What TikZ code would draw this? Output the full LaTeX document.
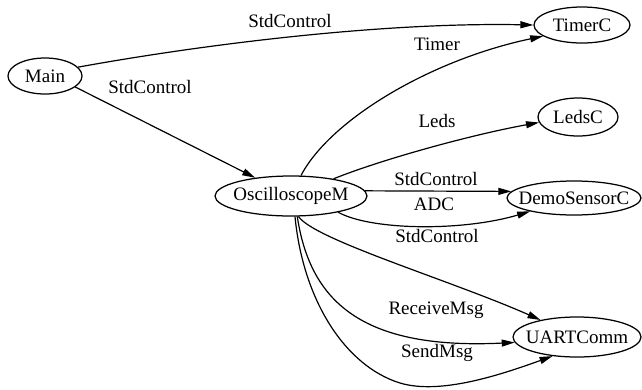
\documentclass[tikz,border=0pt]{standalone}
\usepackage{fontspec}
\setmainfont{Liberation Serif}
\usetikzlibrary{arrows.meta,shapes.geometric}
\begin{document}
\begin{tikzpicture}[x=1pt,y=-1pt,
  comp/.style={draw, ellipse, line width=1.25pt, inner sep=0pt, font=\fontsize{19}{21}\selectfont},
  lbl/.style={font=\fontsize{19}{21}\selectfont, anchor=base, inner sep=0pt},
  edge/.style={line width=1.2pt, -{Triangle[length=13pt,width=7pt]}}]
\useasboundingbox (0,0) rectangle (642,389);
\node[comp, minimum width=74pt, minimum height=36pt] (main) at (45,76) {\makebox[0pt]{Main}};
\node[comp, minimum width=96pt, minimum height=36pt] (timer) at (582,25) {\makebox[0pt]{TimerC}};
\node[comp, minimum width=80pt, minimum height=38pt] (leds) at (578,117) {\makebox[0pt]{LedsC}};
\node[comp, minimum width=152pt, minimum height=40pt] (osc) at (291,196) {\makebox[0pt]{OscilloscopeM}};
\node[comp, minimum width=134pt, minimum height=34pt] (demo) at (574,198) {\makebox[0pt]{DemoSensorC}};
\node[comp, minimum width=128pt, minimum height=40pt] (uart) at (577,337) {\makebox[0pt]{UARTComm}};
\coordinate (dip) at (400,383);

\draw[edge] (main.15) .. controls (200,45) and (380,22) .. (timer.west);
\draw[edge] (main.-20) -- (osc.153);
\draw[edge] (osc.64) .. controls (330,120) and (430,60) .. (timer.196);
\draw[edge] (osc.22) .. controls (380,160) and (470,135) .. (leds.188);
\draw[edge] (osc.4) -- (demo.174);
\draw[edge] (osc.-19) .. controls (370,230) and (460,232) .. (demo.197);
\draw[edge] (osc.-70) .. controls (315,240) and (450,280) .. (uart.155);
\draw[edge] (osc.-73) .. controls (310,300) and (360,350) .. (uart.185);
\draw[edge] (osc.-79) .. controls (303,300) and (345,366) .. (dip) .. controls (440,395) and (500,375) .. (uart.218);

\node[lbl] (l1) at (290,27) {StdControl};
\node[lbl] (l2) at (150,93) {StdControl};
\node[lbl] (l3) at (437,50) {Timer};
\node[lbl] (l4) at (437,127) {Leds};
\node[lbl] (l5) at (436,185) {StdControl};
\node[lbl] (l6) at (434,210) {ADC};
\node[lbl] (l7) at (437,242) {StdControl};
\node[lbl] (l8) at (436,314) {ReceiveMsg};
\node[lbl] (l9) at (437,357) {SendMsg};
\end{tikzpicture}
\end{document}
